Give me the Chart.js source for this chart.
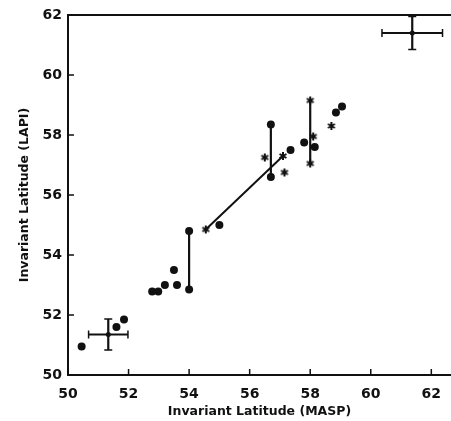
<!DOCTYPE html>
<html>
<head>
<meta charset="utf-8">
<script src="https://cdn.jsdelivr.net/npm/chart.js@4/dist/chart.umd.min.js"></script>
<style>
  html, body { margin: 0; padding: 0; background: #fff; }
  #wrap { width: 451px; height: 421px; }
</style>
</head>
<body>
<div id="wrap"><canvas id="chart"></canvas></div>
<script>
// Filled circles (MASP, LAPI)
const dotX = [50.45, 51.6, 51.85, 52.78, 52.98, 53.2, 53.5, 53.6, 54.0, 54.0, 55.0, 56.7, 56.7, 57.35, 57.8, 58.15, 58.85, 59.05];
const dotY = [50.95, 51.6, 51.85, 52.78, 52.78, 53.0, 53.5, 53.0, 52.85, 54.8, 55.0, 58.35, 56.6, 57.5, 57.75, 57.6, 58.75, 58.95];

// Asterisks
const starX = [54.55, 56.5, 57.1, 57.15, 58.0, 58.1, 58.0, 58.7];
const starY = [54.85, 57.25, 57.3, 56.75, 59.15, 57.95, 57.05, 58.3];

// Vertical connectors: x, y from, y to
const linkX = [54.0, 56.7, 58.0];
const linkLow = [52.85, 56.6, 57.05];
const linkHigh = [54.8, 58.35, 59.15];

// Fitted segment
const fitX = [54.55, 57.1];
const fitY = [54.85, 57.3];

// Error crosses: centre and half widths
const errX = [51.33, 61.37];
const errY = [51.35, 61.4];
const errDX = [0.65, 1.0];
const errDY = [0.52, 0.55];

const xTicks = [50, 52, 54, 56, 58, 60, 62];
const yTicks = [50, 52, 54, 56, 58, 60, 62];

const INK = '#111';
const FONT = 'DejaVu Sans, Liberation Sans, sans-serif';

const toPoints = (xs, ys) => xs.map((x, i) => ({ x: x, y: ys[i] }));

// six-armed asterisk marker
function makeAsterisk(size) {
    const c = document.createElement('canvas');
    c.width = size; c.height = size;
    const g = c.getContext('2d');
    const r = size / 2 - 1;
    g.strokeStyle = INK;
    g.lineWidth = 2;
    g.beginPath();
    [90, 30, 150].forEach(deg => {
        const a = deg * Math.PI / 180;
        g.moveTo(size / 2 - r * Math.cos(a), size / 2 - r * Math.sin(a));
        g.lineTo(size / 2 + r * Math.cos(a), size / 2 + r * Math.sin(a));
    });
    g.stroke();
    return c;
}
const asterisk = makeAsterisk(10);

const datasets = [
    {
        label: 'dots',
        type: 'scatter',
        data: toPoints(dotX, dotY),
        pointStyle: 'circle',
        pointRadius: 4,
        backgroundColor: INK,
        borderColor: INK,
        borderWidth: 0
    },
    {
        label: 'stars',
        type: 'scatter',
        data: toPoints(starX, starY),
        pointStyle: asterisk,
        pointRadius: 5
    },
    {
        label: 'fit',
        type: 'line',
        data: toPoints(fitX, fitY),
        borderColor: INK,
        borderWidth: 2,
        pointRadius: 0,
        fill: false
    }
];

linkX.forEach((x, i) => {
    datasets.push({
        label: 'link' + i,
        type: 'line',
        data: [{ x: x, y: linkLow[i] }, { x: x, y: linkHigh[i] }],
        borderColor: INK,
        borderWidth: 2.2,
        pointRadius: 0,
        fill: false
    });
});

// Error bars, top frame line and inward tick marks
const decorPlugin = {
    id: 'decor',
    afterDatasetsDraw(chart) {
        const { ctx, chartArea, scales } = chart;
        const xs = scales.x, ys = scales.y;
        ctx.save();
        ctx.strokeStyle = INK;
        ctx.fillStyle = INK;

        // error crosses
        errX.forEach((cx, i) => {
            const px = xs.getPixelForValue(cx);
            const py = ys.getPixelForValue(errY[i]);
            const x0 = xs.getPixelForValue(cx - errDX[i]);
            const x1 = xs.getPixelForValue(cx + errDX[i]);
            const y0 = ys.getPixelForValue(errY[i] - errDY[i]);
            const y1 = ys.getPixelForValue(errY[i] + errDY[i]);
            ctx.lineWidth = 2.2;
            ctx.beginPath();
            ctx.moveTo(x0, py); ctx.lineTo(x1, py);
            ctx.moveTo(px, y0); ctx.lineTo(px, y1);
            ctx.stroke();
            ctx.lineWidth = 1.5;
            ctx.beginPath();
            ctx.moveTo(x0, py - 4); ctx.lineTo(x0, py + 4);
            ctx.moveTo(x1, py - 4); ctx.lineTo(x1, py + 4);
            ctx.moveTo(px - 4, y0); ctx.lineTo(px + 4, y0);
            ctx.moveTo(px - 4, y1); ctx.lineTo(px + 4, y1);
            ctx.stroke();
            ctx.beginPath();
            ctx.arc(px, py, 2.5, 0, Math.PI * 2);
            ctx.fill();
        });

        // top frame
        ctx.lineWidth = 2;
        ctx.beginPath();
        ctx.moveTo(chartArea.left, chartArea.top);
        ctx.lineTo(chartArea.right, chartArea.top);
        ctx.stroke();

        // inward ticks
        ctx.lineWidth = 1.5;
        ctx.beginPath();
        xTicks.forEach(v => {
            const px = xs.getPixelForValue(v);
            ctx.moveTo(px, chartArea.bottom);
            ctx.lineTo(px, chartArea.bottom - 6);
        });
        yTicks.forEach(v => {
            const py = ys.getPixelForValue(v);
            ctx.moveTo(chartArea.left, py);
            ctx.lineTo(chartArea.left + 6, py);
        });
        ctx.stroke();
        ctx.restore();
    }
};

new Chart(document.getElementById('chart').getContext('2d'), {
    type: 'scatter',
    data: { datasets: datasets },
    options: {
        responsive: true,
        maintainAspectRatio: false,
        animation: false,
        layout: { autoPadding: false, padding: { top: 15, right: 0, left: 0, bottom: 0 } },
        plugins: {
            legend: { display: false },
            tooltip: { enabled: false }
        },
        scales: {
            x: {
                type: 'linear',
                min: 50,
                max: 62.65,
                afterBuildTicks: axis => { axis.ticks = xTicks.map(v => ({ value: v })); },
                afterFit: axis => {
                    axis.paddingLeft = 0;
                    axis.paddingRight = 0;
                    axis.height = 46;
                },
                ticks: {
                    includeBounds: false,
                    color: INK,
                    padding: 11,
                    font: { family: FONT, size: 14, weight: 'bold' }
                },
                grid: { display: false, drawTicks: false },
                border: { display: true, color: INK, width: 2 },
                title: {
                    display: true,
                    text: 'Invariant Latitude (MASP)',
                    color: INK,
                    padding: { top: 2, bottom: 2 },
                    font: { family: FONT, size: 12.5, weight: 'bold' }
                }
            },
            y: {
                type: 'linear',
                min: 50,
                max: 62,
                afterBuildTicks: axis => { axis.ticks = yTicks.map(v => ({ value: v })); },
                afterFit: axis => {
                    axis.paddingTop = 0;
                    axis.paddingBottom = 0;
                    axis.width = 68;
                },
                ticks: {
                    color: INK,
                    padding: 6,
                    font: { family: FONT, size: 14, weight: 'bold' }
                },
                grid: { display: false, drawTicks: false },
                border: { display: true, color: INK, width: 2 },
                title: {
                    display: true,
                    text: 'Invariant Latitude (LAPI)',
                    color: INK,
                    padding: { top: 17, bottom: 0 },
                    font: { family: FONT, size: 12.5, weight: 'bold' }
                }
            }
        }
    },
    plugins: [decorPlugin]
});
</script>
</body>
</html>
